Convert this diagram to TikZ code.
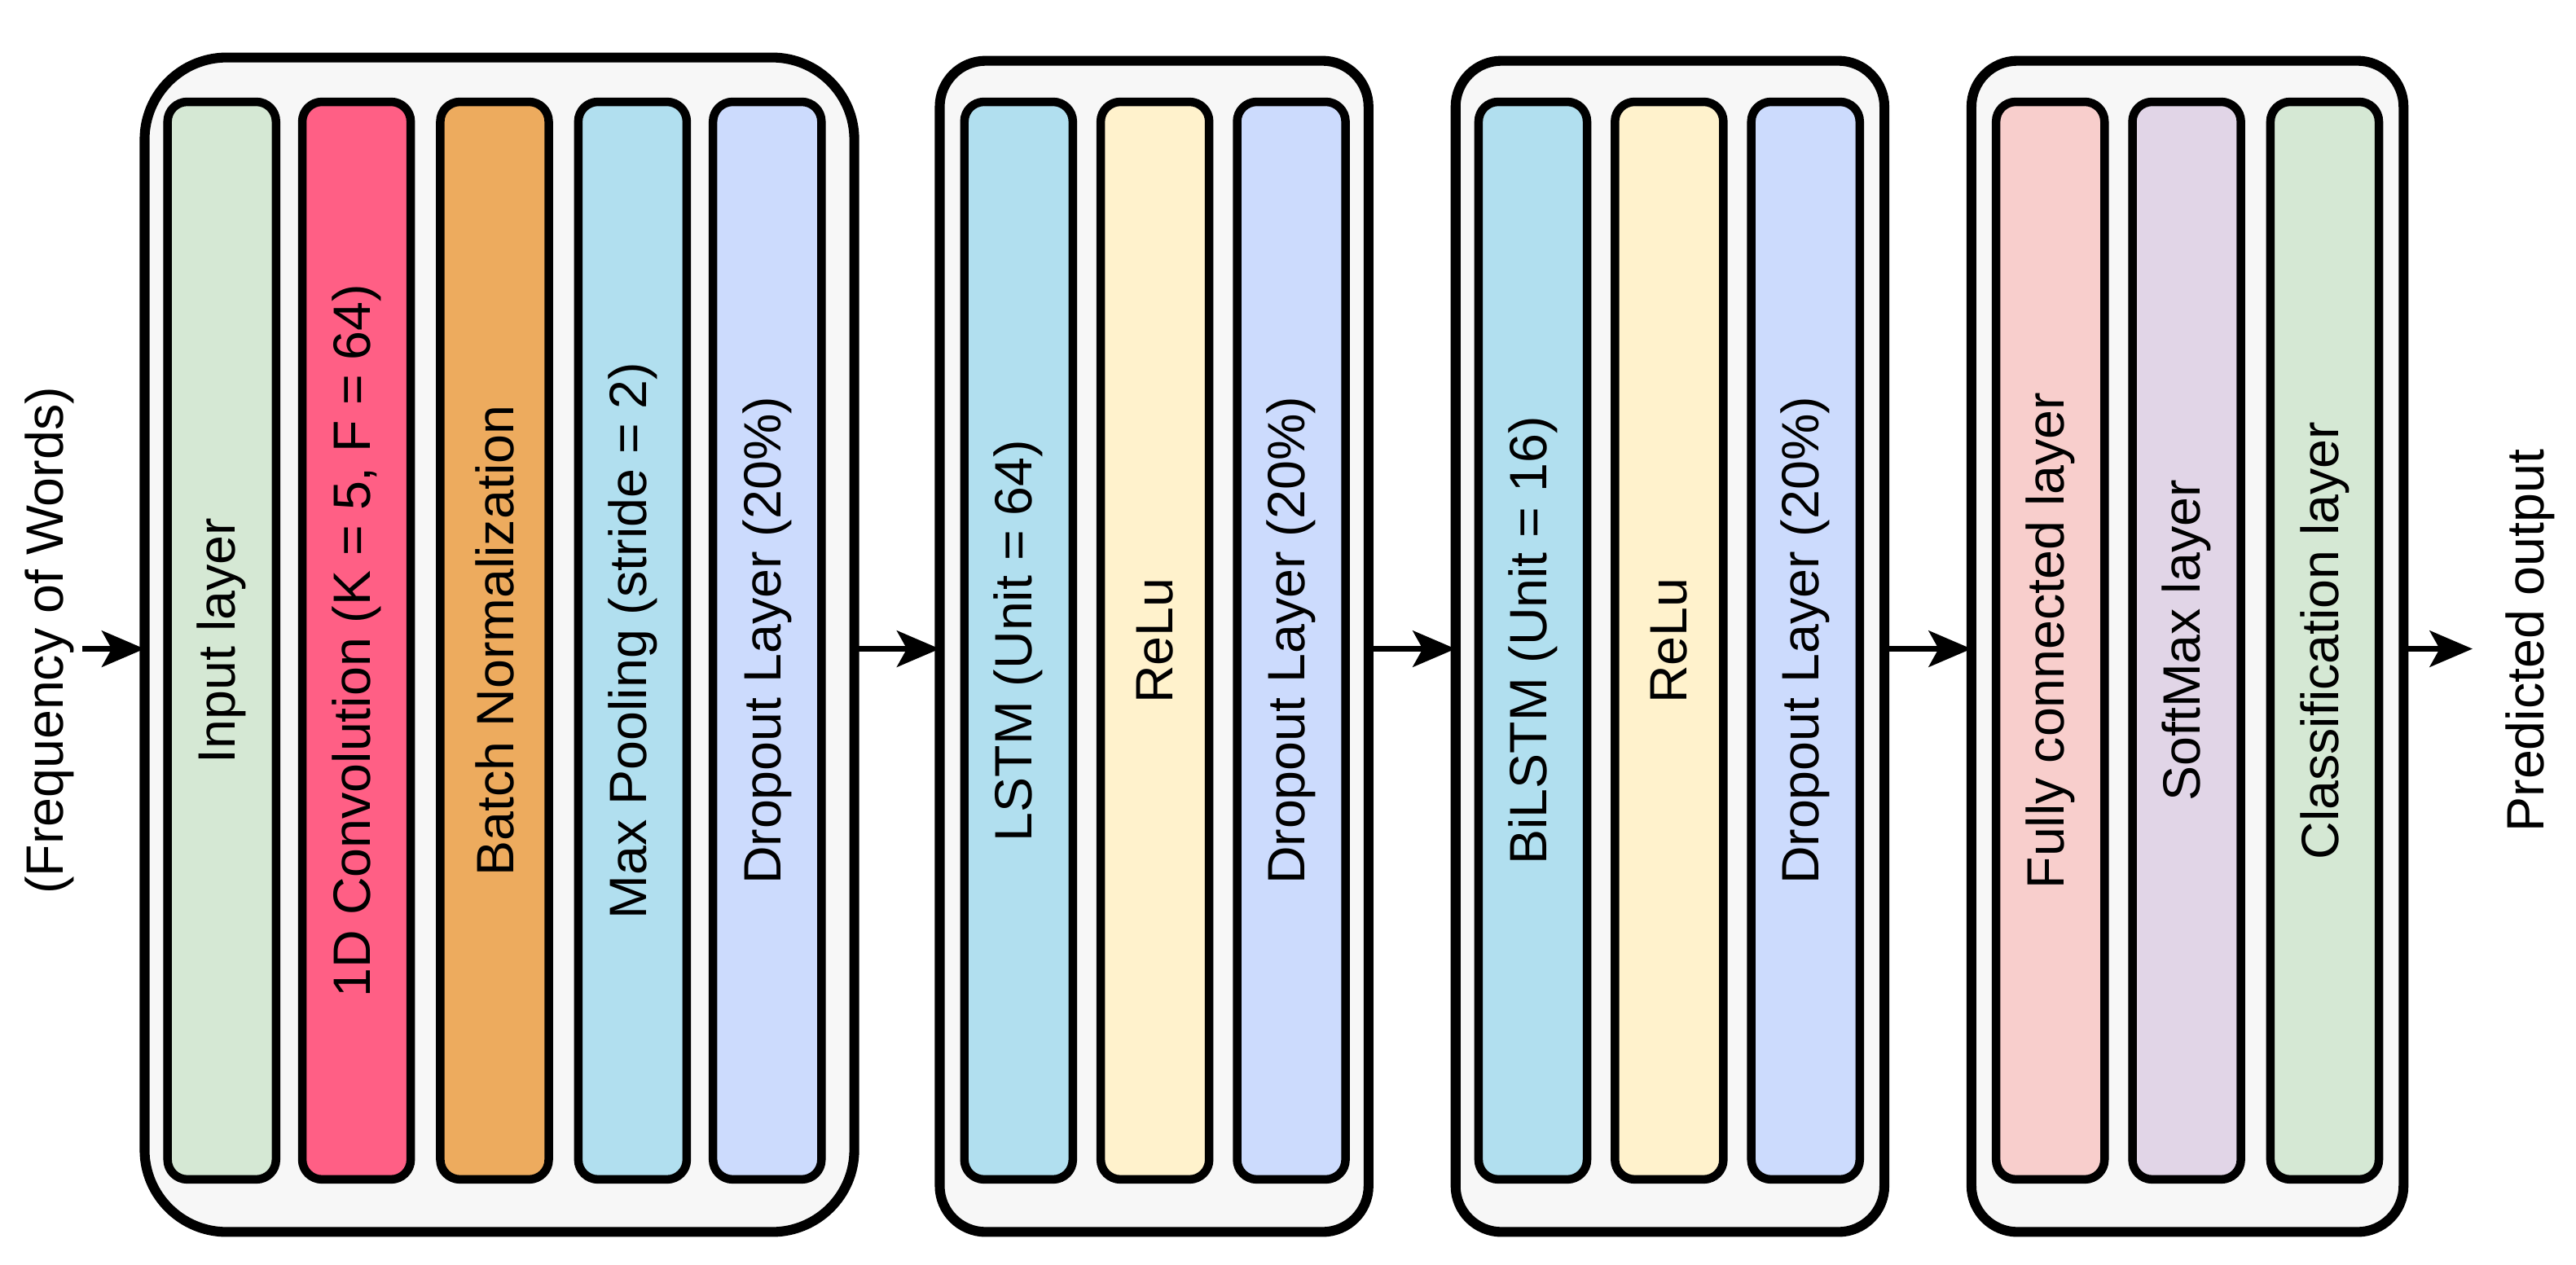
\documentclass[tikz,border=0pt]{standalone}
\usepackage{fontspec}
\setmainfont{Liberation Sans}
\usetikzlibrary{arrows.meta}
\definecolor{cg}{HTML}{D5E8D4}
\definecolor{cr}{HTML}{FF5F85}
\definecolor{co}{HTML}{EDAB5E}
\definecolor{cb}{HTML}{B1DFEF}
\definecolor{cl}{HTML}{CCDBFD}
\definecolor{cy}{HTML}{FFF2CC}
\definecolor{cp}{HTML}{F8CECC}
\definecolor{cv}{HTML}{E1D5E7}
\definecolor{cf}{HTML}{F7F7F7}
\begin{document}
\begin{tikzpicture}[x=0.5pt,y=-0.5pt,
 outer/.style={draw,line width=3pt,fill=cf,rounded corners=#1},
 layer/.style={draw,line width=2.6pt,rounded corners=6pt,minimum width=33pt,minimum height=328pt,inner sep=0pt},
 lbl/.style={rotate=90,font=\fontsize{16}{18}\selectfont},
 arr/.style={line width=1.8pt,-{Stealth[length=13pt,width=11pt,inset=3pt]}}]
\useasboundingbox (0,0) rectangle (1568,770);
\draw[outer=25pt] (88,35) rectangle (520,750);
\draw[outer=14pt] (572,37) rectangle (833,750);
\draw[outer=14pt] (886,37) rectangle (1147,750);
\draw[outer=14pt] (1200,37) rectangle (1463,750);
\foreach \n/\x/\c in {a/135/cg, b/217/cr, c/301/co, d/385/cb, e/467/cl,
 f/620/cb, g/703/cy, h/786/cl, i/933/cb, j/1016/cy, k/1099/cl,
 l/1248/cp, m/1331/cv, n/1415/cg}
 \node[layer,fill=\c] (\n) at (\x,390) {};
\foreach \n/\t in {a/Input layer, b/{1D Convolution (K = 5, F = 64)}, c/Batch Normalization, d/{Max Pooling (stride = 2)}, e/{Dropout Layer (20\%)},
 f/{LSTM (Unit = 64)}, g/ReLu, h/{Dropout Layer (20\%)},
 i/{BiLSTM (Unit = 16)}, j/ReLu, k/{Dropout Layer (20\%)},
 l/Fully connected layer, m/SoftMax layer, n/Classification layer}
 \node[lbl] at (\n) {\t};
\node[lbl] (in) at (30,390) {(Frequency of Words)};
\node[lbl] (out) at (1540,390) {Predicted output};
\coordinate (s) at (50,395);
\coordinate (t) at (1505,395);
\coordinate (o1) at (520,395); \coordinate (i2) at (572,395);
\coordinate (o2) at (833,395); \coordinate (i3) at (886,395);
\coordinate (o3) at (1147,395); \coordinate (i4) at (1200,395);
\coordinate (o4) at (1463,395); \coordinate (i1) at (88,395);
\draw[arr] (s) -- (i1);
\draw[arr] (o1) -- (i2);
\draw[arr] (o2) -- (i3);
\draw[arr] (o3) -- (i4);
\draw[arr] (o4) -- (t);
\end{tikzpicture}
\end{document}
